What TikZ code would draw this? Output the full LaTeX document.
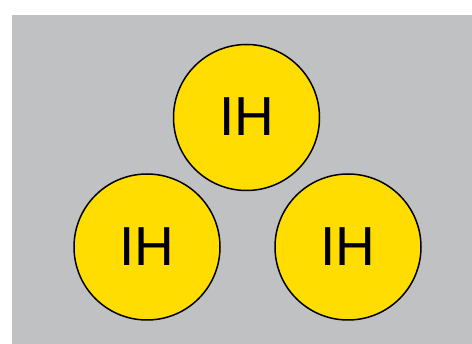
\documentclass[tikz,border=0pt]{standalone}
\usepackage{fontspec}
\setmainfont{Liberation Sans}
\usepackage{tikz}
\usetikzlibrary{positioning}
\usepackage{xcolor}
\definecolor{panelgray}{RGB}{192,193,195}
\definecolor{ihyellow}{RGB}{255,221,0}

\tikzset{
  ihcircle/.style={circle, draw=black, line width=1.5pt, fill=ihyellow, minimum size=146pt, inner sep=0pt, font=\fontsize{55}{55}\selectfont}
}

\begin{document}
\begin{tikzpicture}[x=1pt, y=-1pt]
  \useasboundingbox (0,0) rectangle (472,344);
  \fill[panelgray] (12,15) rectangle (472,344);
  \node[ihcircle] (top) at (246.5,117.5) {\raisebox{2pt}{IH}};
  \node[ihcircle] (left) at (147,247) {IH};
  \node[ihcircle] (right) at (348,247) {IH};
\end{tikzpicture}
\end{document}
